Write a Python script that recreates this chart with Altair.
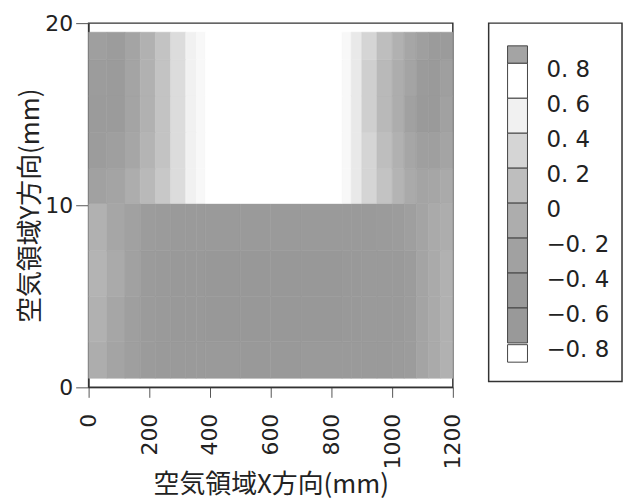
import altair as alt
import pandas as pd

# ---- field data ----
x_edges = [0, 60, 120, 170, 220, 270, 320, 355, 385, 500, 600, 700, 835, 865,
           900, 950, 1000, 1040, 1080, 1120, 1160, 1200]
y_edges = [0.5, 2.5, 5, 7.5, 10.1, 12, 14, 16, 18, 19.5]

row_0 = [-0.10, -0.25, -0.35, -0.45, -0.50, -0.50, -0.50, -0.50, -0.50, -0.52, -0.52,
         -0.50, -0.50, -0.50, -0.50, -0.50, -0.45, -0.40, -0.25, -0.15, -0.05]
row_1 = [-0.05, -0.20, -0.35, -0.45, -0.50, -0.52, -0.52, -0.52, -0.55, -0.55, -0.55,
         -0.55, -0.52, -0.52, -0.50, -0.50, -0.48, -0.40, -0.25, -0.15, -0.05]
row_2 = [0.00, -0.15, -0.30, -0.45, -0.50, -0.52, -0.52, -0.52, -0.55, -0.55, -0.55,
         -0.55, -0.52, -0.52, -0.50, -0.50, -0.48, -0.40, -0.25, -0.15, -0.05]
row_3 = [-0.05, -0.20, -0.30, -0.40, -0.45, -0.48, -0.50, -0.50, -0.50, -0.50, -0.50,
         -0.50, -0.50, -0.50, -0.48, -0.45, -0.42, -0.35, -0.25, -0.15, -0.10]
row_4 = [-0.30, -0.25, -0.10, 0.05, 0.20, 0.35, 0.50, 0.55, 0.70, 0.70, 0.70,
         0.70, 0.55, 0.45, 0.30, 0.15, 0.00, -0.15, -0.25, -0.20, -0.15]
row_5 = [-0.40, -0.35, -0.20, 0.00, 0.15, 0.35, 0.50, 0.55, 0.70, 0.70, 0.70,
         0.70, 0.55, 0.45, 0.30, 0.10, -0.05, -0.20, -0.35, -0.35, -0.25]
row_6 = [-0.45, -0.45, -0.25, -0.05, 0.15, 0.35, 0.50, 0.55, 0.70, 0.70, 0.70,
         0.70, 0.55, 0.45, 0.25, 0.05, -0.10, -0.30, -0.50, -0.50, -0.30]
row_7 = [-0.40, -0.45, -0.25, -0.05, 0.15, 0.35, 0.50, 0.55, 0.70, 0.70, 0.70,
         0.70, 0.55, 0.45, 0.25, 0.05, -0.10, -0.25, -0.45, -0.50, -0.35]
row_8 = [-0.35, -0.40, -0.25, -0.05, 0.15, 0.35, 0.50, 0.55, 0.70, 0.70, 0.70,
         0.70, 0.55, 0.45, 0.30, 0.10, -0.05, -0.20, -0.35, -0.45, -0.45]
field_rows = [row_0, row_1, row_2, row_3, row_4, row_5, row_6, row_7, row_8]

x_ticks = [0, 200, 400, 600, 800, 1000, 1200]
y_ticks = [0, 10, 20]

# ---- colour key ----
color_stops = [-0.82, -0.8, -0.6, -0.4, -0.2, 0.0, 0.2, 0.4, 0.6, 0.8, 0.82]
gray_levels = ["#ffffff", "#9a9a9a", "#979797", "#9c9c9c", "#a6a6a6", "#b4b4b4",
               "#c8c8c8", "#e2e2e2", "#ffffff", "#ffffff", "#a4a4a4"]

legend_top = [0.90, 0.8, 0.6, 0.4, 0.2, 0.0, -0.2, -0.4, -0.6, -0.81]
legend_bottom = [0.8, 0.6, 0.4, 0.2, 0.0, -0.2, -0.4, -0.6, -0.8, -0.91]
legend_value = [0.85, 0.7, 0.5, 0.3, 0.1, -0.1, -0.3, -0.5, -0.7, -0.85]
label_pos = [0.8, 0.6, 0.4, 0.2, 0.0, -0.2, -0.4, -0.6, -0.8]
label_text = ["0. 8", "0. 6", "0. 4", "0. 2", "0", "−0. 2", "−0. 4", "−0. 6", "−0. 8"]

records = []
for r, row in enumerate(field_rows):
    for c, v in enumerate(row):
        records.append({"x0": x_edges[c], "x1": x_edges[c + 1],
                        "y0": y_edges[r], "y1": y_edges[r + 1], "v": v})
df = pd.DataFrame(records)

leg_df = pd.DataFrame({"top": legend_top, "bottom": legend_bottom, "v": legend_value})
lab_df = pd.DataFrame({"pos": label_pos, "label": label_text})

gscale = alt.Scale(domain=color_stops, range=gray_levels, type="linear",
                   clamp=True, interpolate="rgb")

NUM_FONT = "DejaVu Sans"
JP_FONT = "Noto Sans CJK JP"

heat = alt.Chart(df).mark_rect(strokeWidth=0.6).encode(
    x=alt.X("x0:Q",
            scale=alt.Scale(domain=[0, 1200], nice=False, zero=False),
            axis=alt.Axis(values=x_ticks, format="d", title="空気領域X方向(mm)",
                          labelAngle=270, tickSize=10, labelPadding=16,
                          labelFontSize=22, labelFont=NUM_FONT, titleFont=JP_FONT,
                          titleFontSize=26, titleFontWeight="normal", titlePadding=3,
                          grid=False, domainColor="#333", tickColor="#555",
                          labelColor="#222", titleColor="#222")),
    x2="x1",
    y=alt.Y("y0:Q",
            scale=alt.Scale(domain=[0, 20], nice=False, zero=False),
            axis=alt.Axis(values=y_ticks, format="d", title="空気領域Y方向(mm)",
                          tickSize=13, labelPadding=3, labelFontSize=22,
                          labelFont=NUM_FONT, titleFont=JP_FONT, titleFontSize=26,
                          titleFontWeight="normal", titlePadding=1, grid=False,
                          domainColor="#333", tickColor="#555", labelColor="#222",
                          titleColor="#222")),
    y2="y1",
    color=alt.Color("v:Q", scale=gscale, legend=None),
    stroke=alt.Stroke("v:Q", scale=gscale, legend=None),
).properties(width=366, height=366)

leg_y = alt.Scale(domain=[-1.02, 1.03], nice=False, zero=False)

leg_rects = alt.Chart(leg_df).mark_rect(stroke="#444", strokeWidth=1).encode(
    x=alt.value(19), x2=alt.value(39),
    y=alt.Y("top:Q", scale=leg_y, axis=None),
    y2="bottom",
    color=alt.Color("v:Q", scale=gscale, legend=None),
)
leg_labels = alt.Chart(lab_df).mark_text(
    align="left", baseline="middle", dy=7, fontSize=23, font=NUM_FONT, color="#222"
).encode(
    x=alt.value(58),
    y=alt.Y("pos:Q", scale=leg_y, axis=None),
    text="label:N",
)
legend = alt.layer(leg_rects, leg_labels).properties(width=134, height=360)

chart = alt.hconcat(heat, legend, spacing=36, bounds="flush").configure_view(
    stroke="#333", strokeWidth=1.5
).properties(
    padding={"left": 9, "top": 2, "right": 2, "bottom": 2},
    background="white",
)

chart.save("out.html", embed_options={"renderer": "svg", "actions": False})
